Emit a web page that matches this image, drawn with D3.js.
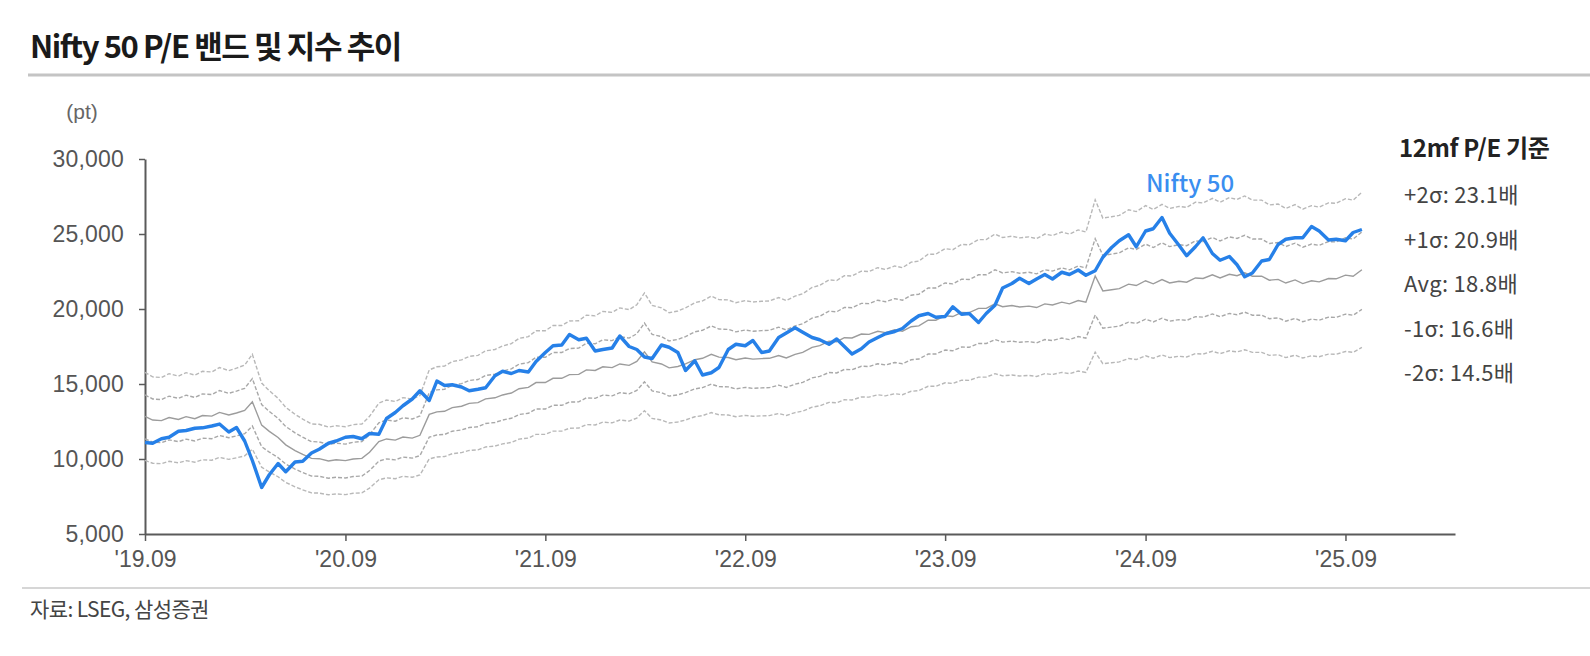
<!DOCTYPE html>
<html>
<head>
<meta charset="utf-8">
<script src="https://cdn.jsdelivr.net/npm/d3@7"></script>
<style>
  body { margin: 0; background: #fff; }
  svg text { font-family: "Liberation Sans", Arial, sans-serif; }
</style>
</head>
<body>
<svg id="chart" width="1590" height="656"></svg>
<script>
// semi-monthly points (1st, 15th) starting 2019-09-01
const startMonth = new Date(2019, 8, 1);

// Nifty 50 index (pt)
const nifty = [
  11100, 11050, 11350, 11450, 11850, 11900, 12050, 12080, 12200, 12330, 11800, 12100,
  11200, 9900, 8100, 8950, 9700, 9150, 9800, 9850, 10400, 10650, 11050, 11200,
  11450, 11500, 11350, 11700, 11650, 12700, 13100, 13550, 14000, 14550, 13900, 15200,
  14900, 14950, 14800, 14550, 14650, 14750, 15550, 15850, 15700, 15900, 15800, 16500,
  17100, 17550, 17600, 18300, 17950, 18050, 17200, 17300, 17400, 18200, 17500, 17300,
  16800, 16700, 17600, 17450, 17100, 15900, 16550, 15600, 15750, 16100, 17300, 17650,
  17550, 17900, 17100, 17200, 18100, 18400, 18750, 18450, 18100, 17950, 17650, 18000,
  17500, 17000, 17350, 17800, 18100, 18350, 18500, 18700, 19200, 19550, 19700, 19450,
  19500, 20150, 19650, 19700, 19100, 19700, 20250, 21400, 21700, 22050, 21700, 22000,
  22300, 22000, 22450, 22300, 22600, 22250, 22550, 23450, 24100, 24550, 24950, 24150,
  25200, 25350, 26100, 25050, 24250, 23550, 24150, 24750, 23700, 23250, 23500, 22950,
  22150, 22400, 23200, 23300, 24300, 24650, 24750, 24750, 25500, 25200, 24600, 24650,
  24550, 25100, 25300
];

// 12m forward EPS behind the P/E bands (pt)
const fwdEps = [
  683, 670, 668, 679, 672, 682, 675, 686, 684, 697, 688, 695,
  704, 735, 652, 630, 608, 582, 562, 548, 534, 533, 525, 529,
  526, 532, 534, 556, 594, 603, 599, 610, 606, 616, 690, 699,
  701, 714, 719, 729, 732, 745, 749, 759, 766, 781, 786, 803,
  803, 818, 818, 831, 832, 848, 846, 859, 856, 869, 864, 878,
  912, 876, 869, 855, 860, 869, 884, 889, 903, 893, 892, 884,
  890, 886, 888, 889, 899, 890, 903, 910, 928, 934, 950, 948,
  962, 961, 975, 974, 985, 980, 990, 985, 1001, 1004, 1024, 1024,
  1040, 1037, 1052, 1051, 1066, 1066, 1082, 1072, 1076, 1071, 1074, 1069,
  1082, 1078, 1088, 1082, 1094, 1088, 1181, 1128, 1132, 1136, 1152, 1147,
  1164, 1153, 1168, 1156, 1162, 1159, 1174, 1172, 1185, 1174, 1187, 1182,
  1192, 1180, 1180, 1166, 1169, 1156, 1167, 1154, 1164, 1160, 1172, 1171,
  1184, 1180, 1203
];

const peMultiples = [23.1, 20.9, 18.8, 16.6, 14.5];
const bandLabels = ["+2σ: 23.1배", "+1σ: 20.9배", "Avg: 18.8배", "-1σ: 16.6배", "-2σ: 14.5배"];
const yTicks = [5000, 10000, 15000, 20000, 25000, 30000];
const xTickLabels = ["'19.09", "'20.09", "'21.09", "'22.09", "'23.09", "'24.09", "'25.09"];

const dates = nifty.map((d, i) => new Date(startMonth.getFullYear(), startMonth.getMonth() + Math.floor(i / 2), i % 2 ? 15 : 1));

const svg = d3.select("#chart");
const margin = {top: 159, right: 135, bottom: 122, left: 145};
const width = +svg.attr("width");
const height = +svg.attr("height");
const innerW = width - margin.left - margin.right;
const innerH = height - margin.top - margin.bottom;

const x = d3.scaleTime()
  .domain([new Date(2019, 8, 1), new Date(2026, 2, 20)])
  .range([margin.left, margin.left + innerW]);
const y = d3.scaleLinear()
  .domain([5000, 30000])
  .range([margin.top + innerH, margin.top]);

// title + rules
svg.append("text")
  .attr("x", 30).attr("y", 58)
  .style("font-family", "'Noto Sans CJK KR', sans-serif")
  .style("font-size", "31px").style("font-weight", "700")
  .style("letter-spacing", "-1.4px")
  .attr("fill", "#1a1a1a")
  .text("Nifty 50 P/E 밴드 및 지수 추이");
svg.append("line")
  .attr("x1", 28).attr("x2", width).attr("y1", 75).attr("y2", 75)
  .attr("stroke", "#c4c4c4").attr("stroke-width", 3);
svg.append("line")
  .attr("x1", 22).attr("x2", width).attr("y1", 588).attr("y2", 588)
  .attr("stroke", "#c8c8c8").attr("stroke-width", 1.5);

svg.append("text")
  .attr("x", 82).attr("y", 119).attr("text-anchor", "middle")
  .style("font-size", "21px").attr("fill", "#666")
  .text("(pt)");

svg.append("text")
  .attr("x", 30).attr("y", 617)
  .style("font-family", "'Noto Sans CJK KR', sans-serif")
  .style("font-size", "21px").style("letter-spacing", "-0.6px")
  .attr("fill", "#444")
  .text("자료: LSEG, 삼성증권");

// axes
const yAxis = d3.axisLeft(y).tickValues(yTicks).tickFormat(d3.format(",")).tickSize(6).tickSizeOuter(0);
const gy = svg.append("g").attr("transform", `translate(${margin.left},0)`).call(yAxis);
gy.select(".domain").attr("stroke", "#5a5a5a").attr("stroke-width", 2);
gy.selectAll(".tick line").attr("stroke", "#5a5a5a").attr("stroke-width", 1.5);
gy.selectAll(".tick text").attr("x", -21)
  .style("font-family", "'Liberation Sans', Arial, sans-serif")
  .style("font-size", "23px").style("letter-spacing", "0.2px").attr("fill", "#555");

const xTickDates = xTickLabels.map((d, i) => new Date(2019 + i, 8, 1));
const xAxis = d3.axisBottom(x).tickValues(xTickDates)
  .tickFormat((d, i) => xTickLabels[i]).tickSize(7).tickSizeOuter(0);
const gx = svg.append("g").attr("transform", `translate(0,${margin.top + innerH})`).call(xAxis);
gx.select(".domain").attr("stroke", "#5a5a5a").attr("stroke-width", 2);
gx.selectAll(".tick line").attr("stroke", "#5a5a5a").attr("stroke-width", 1.5);
gx.selectAll(".tick text").attr("y", 17)
  .style("font-family", "'Liberation Sans', Arial, sans-serif")
  .style("font-size", "23px").attr("fill", "#555");

// P/E bands
const bandStyles = [
  {stroke: "#b8b8b8", dash: "4,2"},
  {stroke: "#a8a8a8", dash: "4,2"},
  {stroke: "#9c9c9c", dash: null},
  {stroke: "#a8a8a8", dash: "4,2"},
  {stroke: "#b8b8b8", dash: "4,2"}
];
const line = d3.line().x(d => x(d.date)).y(d => y(d.value));
peMultiples.forEach((pe, k) => {
  const pts = fwdEps.map((e, i) => ({date: dates[i], value: e * pe}));
  svg.append("path")
    .datum(pts)
    .attr("fill", "none")
    .attr("stroke", bandStyles[k].stroke)
    .attr("stroke-width", 1.4)
    .attr("stroke-dasharray", bandStyles[k].dash)
    .attr("d", line);
});

// Nifty 50
svg.append("path")
  .datum(nifty.map((v, i) => ({date: dates[i], value: v})))
  .attr("fill", "none")
  .attr("stroke", "#2680e8")
  .attr("stroke-width", 3.4)
  .attr("stroke-linejoin", "round")
  .attr("d", line);

svg.append("text")
  .attr("x", 1190).attr("y", 192).attr("text-anchor", "middle")
  .style("font-family", "'Noto Sans CJK KR', sans-serif")
  .style("font-size", "24px").style("font-weight", "500")
  .attr("fill", "#3a8ef0")
  .text("Nifty 50");

// legend
svg.append("text")
  .attr("x", 1399).attr("y", 157)
  .style("font-family", "'Noto Sans CJK KR', sans-serif")
  .style("font-size", "24px").style("font-weight", "700")
  .style("letter-spacing", "-0.3px")
  .attr("fill", "#222")
  .text("12mf P/E 기준");
svg.selectAll(".band-label")
  .data(bandLabels)
  .enter()
  .append("text")
  .attr("class", "band-label")
  .attr("x", 1404)
  .attr("y", (d, i) => 203 + i * 44.5)
  .style("font-family", "'Noto Sans CJK KR', sans-serif")
  .style("font-size", "22px")
  .style("letter-spacing", "0.3px")
  .attr("fill", "#444")
  .text(d => d);
</script>
</body>
</html>
